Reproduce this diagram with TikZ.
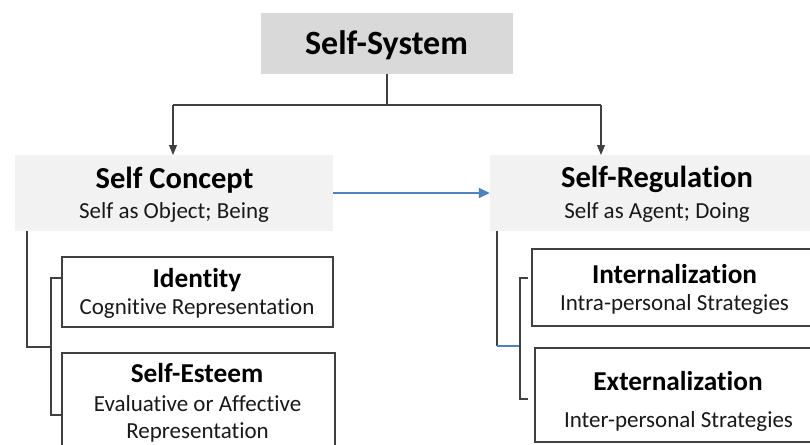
\documentclass[tikz,border=0pt]{standalone}
\usepackage{fontspec}
\setmainfont[Ligatures=NoCommon]{Carlito}
\usetikzlibrary{arrows.meta,positioning}
\definecolor{sysgray}{HTML}{D9D9D9}
\definecolor{lightgray}{HTML}{F2F2F2}
\definecolor{linecol}{HTML}{404040}
\definecolor{bluecol}{HTML}{4F81BD}
\tikzset{
  graybox/.style={draw=none, inner sep=0pt, rectangle},
  outlinebox/.style={draw=linecol, line width=1.2pt, fill=white, inner sep=0pt, rectangle},
  conn/.style={draw=linecol, line width=1.1pt},
  bigtitle/.style={anchor=base, inner sep=0pt, font=\fontsize{34}{38}\selectfont\bfseries},
  title/.style={anchor=base, inner sep=0pt, font=\fontsize{30.5}{34}\selectfont\bfseries},
  subtitle/.style={anchor=base, inner sep=0pt, font=\fontsize{23}{27}\selectfont, text=black!90},
  boxtitle/.style={anchor=base, inner sep=0pt, font=\fontsize{27.3}{31}\selectfont\bfseries},
  downarrow/.style={conn, -{Triangle[length=10pt,width=8pt]}},
  bluearrow/.style={draw=bluecol, line width=1.5pt, -{Triangle[length=11pt,width=10pt]}}
}
\begin{document}
\begin{tikzpicture}[x=1pt,y=-1pt]
\useasboundingbox (0,0) rectangle (810,444);
\clip (0,0) rectangle (810,444);
% boxes
\node[graybox, fill=sysgray, minimum width=252pt, minimum height=61pt] (sys) at (387,43.5) {};
\node[graybox, fill=lightgray, minimum width=318pt, minimum height=76pt] (concept) at (174,193) {};
\node[graybox, fill=lightgray, minimum width=334pt, minimum height=76pt] (reg) at (657,193) {};
\node[outlinebox, minimum width=271pt, minimum height=70pt] (ident) at (197.5,292) {};
\node[outlinebox, minimum width=273pt, minimum height=107pt] (esteem) at (198.5,406.5) {};
\node[outlinebox, minimum width=285pt, minimum height=77pt] (intern) at (674.5,287.5) {};
\node[outlinebox, minimum width=286pt, minimum height=94pt] (extern) at (678,395) {};
% texts
\node[bigtitle] (tsys) at (386.5,54) {Self-System};
\node[title] (tconcept) at (174.5,188) {Self Concept};
\node[subtitle] (sconcept) at (174,218) {Self as Object; Being};
\node[title] (treg) at (657,187) {Self-Regulation};
\node[subtitle] (sreg) at (657,218) {Self as Agent; Doing};
\node[boxtitle] (tident) at (197,287) {Identity};
\node[subtitle] (sident) at (197,314) {Cognitive Representation};
\node[boxtitle] (testeem) at (197,382) {Self-Esteem};
\node[subtitle] (sesteem1) at (197.5,411) {Evaluative or Affective};
\node[subtitle] (sesteem2) at (197.5,438) {Representation};
\node[boxtitle] (tintern) at (674.5,283) {Internalization};
\node[subtitle] (sintern) at (674.5,310) {Intra-personal Strategies};
\node[boxtitle] (textern) at (678,390) {Externalization};
\node[subtitle] (sextern) at (678.5,427) {Inter-personal Strategies};
% coordinates
\coordinate (split) at (387,105);
\coordinate (lefttop) at (173,105);
\coordinate (righttop) at (601,105);
\coordinate (lefthit) at (173,155);
\coordinate (righthit) at (601,155);
\coordinate (cl) at (27,231);
\coordinate (cljoin) at (51,347);
\coordinate (rl) at (497,231);
\coordinate (rljoin) at (520,346);
% connectors
\draw[conn] (sys.south) -- (split);
\draw[conn] (lefttop) -- (righttop);
\draw[downarrow] (lefttop) -- (lefthit);
\draw[downarrow] (righttop) -- (righthit);
\draw[bluearrow] (concept.east |- 0,193) -- (reg.west |- 0,193);
% left bracket
\draw[conn] (cl) |- (cljoin);
\draw[conn] (ident.west |- 0,278) -- (51,278) -- (51,415) -- (esteem.west |- 0,415);
% right bracket
\draw[conn] (rl) -- (497,346);
\draw[draw=bluecol, line width=1.1pt] (497,346) -- (rljoin);
\draw[conn] (528,278) -- (520,278) -- (520,399) -- (528,399);
\end{tikzpicture}
\end{document}
